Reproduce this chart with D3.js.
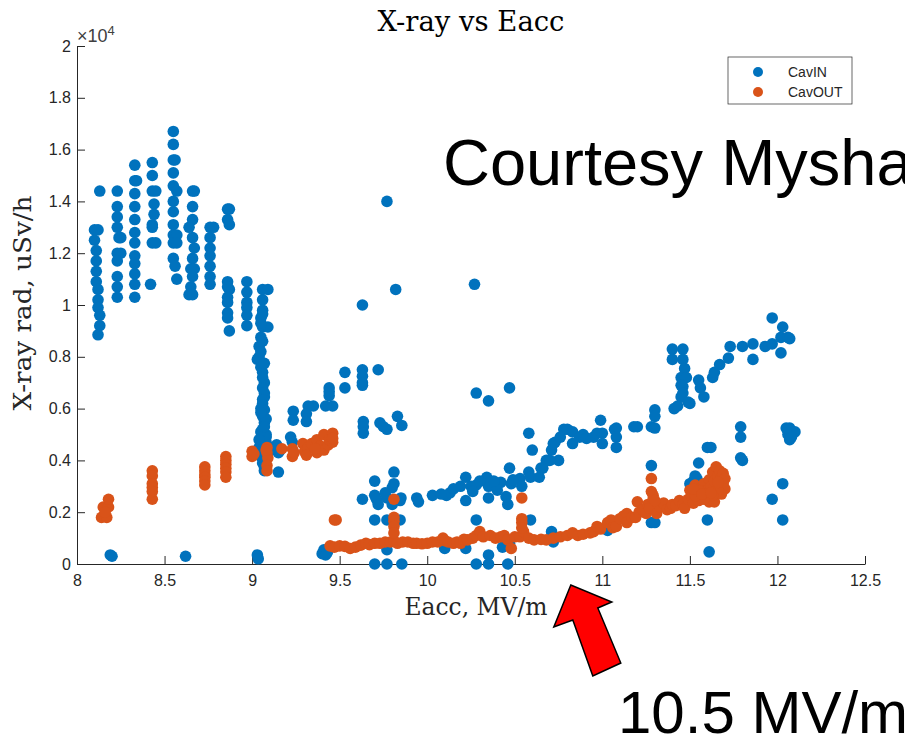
<!DOCTYPE html>
<html>
<head>
<meta charset="utf-8">
<script src="https://cdn.jsdelivr.net/npm/d3@7"></script>
<style>
  body { margin: 0; background: #fff; }
  svg { display: block; }
</style>
</head>
<body>
<div id="chart"></div>
<script>
// Eacc [MV/m] and X-ray rad [uSv/h]
var cavIn = [
  [8.10,12900],[8.12,12900],[8.10,12500],[8.11,12100],[8.11,11700],[8.11,11300],[8.11,10900],[8.12,10600],
  [8.12,10200],[8.12,9900],[8.13,9600],[8.13,9200],[8.12,8850],[8.13,14400],
  [8.23,14400],[8.23,13800],[8.23,13400],[8.23,13000],[8.24,12600],[8.25,12600],[8.23,12000],[8.25,12000],
  [8.23,11700],[8.23,11100],[8.23,10700],[8.23,10300],
  [8.33,15400],[8.33,14800],[8.34,14800],[8.33,14300],[8.33,13800],[8.33,13300],[8.33,12800],[8.33,12400],
  [8.33,11900],[8.33,11600],[8.33,11200],[8.33,10800],[8.33,10300],
  [8.43,15500],[8.43,15000],[8.43,14400],[8.45,14400],[8.44,13900],[8.44,13500],[8.43,13100],[8.43,13000],
  [8.43,12400],[8.45,12400],[8.42,10800],
  [8.55,16700],[8.55,16200],[8.55,15600],[8.56,15600],[8.55,15100],[8.55,14600],[8.57,14400],[8.55,14000],
  [8.55,13600],[8.55,13100],[8.55,12700],[8.57,12700],[8.55,12400],[8.57,12400],[8.55,11800],[8.56,11500],[8.57,11000],
  [8.66,14400],[8.67,14400],[8.66,13800],[8.66,13300],[8.64,13000],[8.66,12600],[8.67,12200],[8.66,11800],
  [8.65,11400],[8.67,11400],[8.66,11100],[8.65,10700],[8.64,10400],[8.66,10400],
  [8.76,13000],[8.78,13000],[8.76,12600],[8.76,12200],[8.76,11900],[8.76,11500],[8.76,11100],[8.76,10800],
  [8.86,13700],[8.87,13700],[8.86,13300],[8.87,13100],[8.86,10900],[8.86,10700],[8.87,10600],[8.86,10300],
  [8.86,10100],[8.86,9700],[8.86,9500],[8.87,9000],
  [8.97,10900],[8.97,10500],[8.97,10100],[8.97,9900],[8.97,9600],[8.97,9200],
  [9.06,10600],[9.09,10600],[9.06,10200],[9.06,9800],[9.05,9500],[9.06,9150],[9.09,9150],[9.05,8750],
  [9.04,8400],[9.04,8000],[9.03,7900],[9.05,7600],[9.06,7400],[9.07,7000],[9.06,6800],[9.07,6450],
  [9.06,6200],[9.07,5950],[9.06,5700],[9.07,5450],[9.06,5200],[9.08,4900],[9.05,4650],[9.07,4400],
  [9.05,4150],[9.06,3900],[9.07,3600],[9.06,7200],[9.07,6600],[9.05,6000],[9.08,5600],[9.05,5100],
  [9.08,4700],[9.04,4500],[9.09,4300],[9.04,4300],[9.10,4500],[9.07,3750],[9.05,8200],[9.06,8600],
  [9.05,9300],[9.06,9650],[9.08,5000],[9.04,4800],[9.07,5300],[9.05,5850],[9.06,6350],[9.07,7750],
  [9.12,4500],[9.14,4600],[9.15,4300],[9.16,4400],[9.15,3550],
  [9.22,4900],[9.23,4700],[9.235,5900],[9.235,5550],[9.32,6100],[9.31,5800],[9.31,5500],[9.35,6100],
  [9.42,6100],[9.46,6100],[9.44,6800],[9.44,6500],[9.44,6650],[9.53,7400],[9.53,6800],[9.63,7500],
  [9.63,7250],[9.63,7000],[9.72,7500],[9.63,6900],
  [9.635,5500],[9.635,5300],[9.635,5050],[9.73,5450],[9.75,5300],[9.77,5200],[9.83,5700],[9.855,5350],
  [9.63,10000],[9.82,10600],[9.77,14000],[10.27,10800],
  [8.19,350],[8.20,300],[8.62,300],[9.03,350],[9.035,200],[9.40,400],[9.41,550],[9.42,350],[9.43,450],
  [9.70,3200],[9.81,3550],[9.81,3100],[9.80,2950],[9.70,2650],[9.71,2500],[9.77,2550],[9.845,2450],
  [9.63,2500],[9.76,2750],[9.72,2300],[9.80,2300],[9.85,2550],[9.94,2550],[9.95,2400],[10.03,2650],
  [10.11,2650],[10.13,2750],[10.19,3000],[10.22,3350],[10.25,3000],[10.28,3050],[10.34,3350],[10.35,3000],
  [10.35,2550],[10.22,2450],[10.42,3150],[10.47,3700],[10.48,3100],[10.53,3300],[10.54,3000],[10.58,3550],
  [10.65,3700],[10.68,4000],[10.71,4400],[10.72,4650],[10.75,4000],[10.78,5200],[10.80,5200],[10.83,5100],
  [10.83,4650],[10.87,4900],[10.89,5000],[10.91,4850],[10.95,4900],[10.97,5050],[10.99,5550],[11.00,4650],
  [11.00,5050],[11.07,5200],[11.08,4500],[11.08,5250],[11.08,4900],[11.18,5300],[11.20,5300],[11.28,5300],
  [11.30,5950],[11.30,5700],[11.30,5250],[10.28,6600],[10.35,6300],[10.47,6800],[10.58,5050],[10.60,4400],
  [10.49,3250],[10.59,3350],[10.64,3350],[10.66,3700],[10.70,4000],[10.73,4700],[10.76,4900],[10.45,2600],
  [10.46,2300],[10.40,2850],[10.15,2900],[10.08,2700],[10.30,3200],[10.26,2800],[10.38,3200],
  [9.70,1700],[9.77,1700],[9.845,1700],[10.28,1700],[10.59,1700],[11.28,1600],[11.60,1700],[12.03,1700],
  [9.70,0],[9.77,0],[9.855,0],[9.77,550],[10.28,0],[10.35,0],[10.35,350],[10.43,650],[10.46,0],
  [10.10,600],[10.22,600],[10.47,800],[10.71,1250],[10.72,850],[11.03,1300],[11.30,1600],[11.61,470],
  [11.40,8300],[11.46,8300],[11.40,7900],[11.46,7900],[11.47,7550],[11.45,7200],[11.48,7200],[11.45,6900],
  [11.46,6850],[11.46,6600],[11.45,6450],[11.50,6200],[11.41,6000],[11.43,6100],[11.49,6250],[11.55,7100],
  [11.56,6800],[11.58,6450],[11.63,7200],[11.64,7400],[11.67,7700],[11.72,7950],[11.73,8400],[11.80,8400],
  [11.86,8500],[11.86,7900],[11.93,8400],[11.97,9500],[12.03,9150],[12.02,8750],[12.06,8750],[11.97,8500],
  [12.02,8150],[12.07,8700],
  [12.07,5250],[12.10,5100],[12.07,4800],[12.06,5000],[12.08,4900],[12.05,5250],
  [11.79,5300],[11.79,4900],[11.80,4000],[11.79,4100],[11.60,4500],[11.62,4500],[11.55,3900],[11.52,3200],
  [11.53,3400],[11.28,3800],[11.97,2500],[12.03,3100],[11.50,3100],[11.54,3300]
];

var cavOut = [
  [8.14,1800],[8.17,1800],[8.15,2200],[8.18,2200],[8.18,2500],[8.16,2000],
  [8.43,3600],[8.43,3400],[8.43,3100],[8.43,2950],[8.43,2500],[8.43,2800],
  [8.73,3750],[8.73,3600],[8.73,3450],[8.73,3350],[8.73,3200],[8.73,3050],
  [8.85,4150],[8.85,4000],[8.85,3850],[8.85,3700],[8.85,3550],[8.85,3350],
  [9.00,4350],[9.00,4150],[9.01,4250],
  [9.085,4500],[9.085,4300],[9.09,4100],[9.085,3800],[9.085,3600],[9.08,4400],
  [9.17,4450],[9.23,4450],[9.23,4150],[9.24,4300],
  [9.29,4650],[9.30,4350],[9.32,4500],[9.34,4650],[9.37,4800],[9.37,4300],[9.39,4550],[9.41,5000],
  [9.41,4400],[9.435,4600],[9.44,4800],[9.46,5050],[9.46,4700],[9.46,4850],[9.31,4200],[9.36,4450],
  [9.47,1700],[9.48,1700],
  [9.445,700],[9.47,650],[9.50,700],[9.53,680],[9.56,600],[9.59,650],[9.62,730],[9.65,800],[9.67,750],
  [9.70,800],[9.73,800],[9.76,850],[9.79,850],[9.81,900],[9.83,800],[9.86,850],[9.89,850],[9.92,800],
  [9.94,800],[9.97,780],[10.00,800],[10.03,850],[10.06,850],[10.09,1000],[10.10,900],[10.12,850],
  [10.15,800],[10.17,850],[10.19,800],[10.21,950],[10.23,930],[10.26,1000],[10.28,1100],[10.30,1250],
  [10.32,1050],[10.36,1100],[10.39,1000],[10.42,1050],[10.44,1100],[10.46,930],[10.48,600],[10.50,1050],
  [10.53,1050],[10.55,1250],[10.58,1000],[10.61,930],[10.65,950],[10.68,930],[10.72,1000],[10.76,1050],
  [10.80,1100],[10.83,1200],[10.86,1100],[10.89,1150],[10.93,1200],[10.95,1250],[10.97,1450],[10.99,1350],
  [11.03,1600],[11.05,1700],[11.06,1400],[11.08,1450],[11.10,1750],[11.12,1850],[11.14,1950],[11.14,1600],
  [11.17,1800],[11.19,1800],[11.20,2400],[11.21,2000],[11.23,2100],[11.25,1950],[11.26,2300],[11.27,2150],
  [11.29,2500],[11.31,1950],[11.33,2200],[11.35,2350],[11.37,2100],[11.39,2150],[11.40,2300],[11.42,2250],
  [11.44,2450],[11.46,2300],[11.47,2150],[11.49,2500],[11.50,2850],[11.51,2600],[11.52,2350],[11.53,3050],
  [11.54,2750],[11.55,2450],[11.56,2600],[11.57,2950],[11.58,3100],[11.59,2700],[11.60,2850],[11.61,3250],
  [11.61,2400],[11.62,3000],[11.63,3550],[11.64,2400],[11.64,3200],[11.65,3750],[11.66,3400],[11.67,3600],
  [11.67,3000],[11.68,3350],[11.69,3100],[11.69,3500],[11.70,3300],[11.70,2900],[11.68,2700],[11.66,2850],
  [11.63,2650],[11.58,2500],[11.55,2850],[11.53,2650],[11.52,2900],[11.57,2700],[11.62,2750],[11.66,3150],
  [9.81,2500],[9.81,1800],[9.81,1650],[9.81,1450],[9.81,1200],
  [10.54,2550],[10.54,1750],[10.54,1600],[10.54,1400],
  [11.28,3300],[11.28,2800],[11.29,2650],[11.30,2450]
];

var xTicks = [8, 8.5, 9, 9.5, 10, 10.5, 11, 11.5, 12, 12.5];
var yTicks = [0, 2000, 4000, 6000, 8000, 10000, 12000, 14000, 16000, 18000, 20000];
var seriesNames = ["CavIN", "CavOUT"];
var seriesColors = ["#0072BD", "#D95319"];

var W = 905, H = 741;
var plotL = 77, plotR = 865, plotT = 46, plotB = 564;

var svg = d3.select("#chart").append("svg")
  .attr("width", W)
  .attr("height", H);

var x = d3.scaleLinear().domain([8, 12.5]).range([plotL, plotR]);
var y = d3.scaleLinear().domain([0, 20000]).range([plotB, plotT]);

var axisColor = "#262626";
var tickFont = "'Liberation Sans', Arial, Helvetica, sans-serif";

// axes (MATLAB style: ticks pointing in, no box)
var xAxis = svg.append("g")
  .attr("transform", "translate(0," + plotB + ")")
  .call(d3.axisBottom(x).tickValues(xTicks).tickSizeInner(-8).tickSizeOuter(0).tickPadding(11)
    .tickFormat(d3.format("~g")));
var yAxis = svg.append("g")
  .attr("transform", "translate(" + plotL + ",0)")
  .call(d3.axisLeft(y).tickValues(yTicks).tickSizeInner(-8).tickSizeOuter(0).tickPadding(6)
    .tickFormat(function(d) { return d3.format("~g")(+(d / 1e4).toFixed(1)); }));

[xAxis, yAxis].forEach(function(a) {
  a.attr("font-family", tickFont).attr("font-size", 16);
  a.select(".domain").attr("stroke", axisColor).attr("stroke-width", 1);
  a.selectAll(".tick line").attr("stroke", axisColor).attr("stroke-width", 1);
  a.selectAll(".tick text").attr("fill", axisColor);
});

// exponent label
var expo = svg.append("text")
  .attr("x", plotL)
  .attr("y", plotT - 4)
  .attr("fill", "#404040")
  .attr("font-family", tickFont)
  .attr("font-size", 18);
expo.append("tspan").text("\u00d710");
expo.append("tspan").attr("dy", -7).attr("font-size", 13).text("4");

// points: CavIN first, CavOUT drawn on top
var r = 5.8;
svg.append("g").selectAll("circle")
  .data(cavIn)
  .enter().append("circle")
  .attr("cx", function(d) { return x(d[0]); })
  .attr("cy", function(d) { return y(d[1]); })
  .attr("r", r)
  .attr("fill", seriesColors[0]);

svg.append("g").selectAll("circle")
  .data(cavOut)
  .enter().append("circle")
  .attr("cx", function(d) { return x(d[0]); })
  .attr("cy", function(d) { return y(d[1]); })
  .attr("r", r)
  .attr("fill", seriesColors[1]);

// title and axis labels (LaTeX look)
var serif = "'DejaVu Serif', serif";
svg.append("text")
  .attr("x", 471).attr("y", 31)
  .attr("text-anchor", "middle")
  .attr("fill", "#000")
  .attr("textLength", 187).attr("lengthAdjust", "spacingAndGlyphs")
  .attr("font-family", serif).attr("font-size", 27)
  .text("X-ray vs Eacc");

svg.append("text")
  .attr("x", 476).attr("y", 615)
  .attr("text-anchor", "middle")
  .attr("fill", axisColor)
  .attr("textLength", 143).attr("lengthAdjust", "spacingAndGlyphs")
  .attr("font-family", serif).attr("font-size", 25)
  .text("Eacc, MV/m");

svg.append("text")
  .attr("transform", "translate(31,303) rotate(-90)")
  .attr("text-anchor", "middle")
  .attr("fill", axisColor)
  .attr("textLength", 215).attr("lengthAdjust", "spacingAndGlyphs")
  .attr("font-family", serif).attr("font-size", 25)
  .text("X-ray rad, uSv/h");

// legend
var legend = svg.append("g").attr("transform", "translate(728,57)");
legend.append("rect")
  .attr("width", 124).attr("height", 47)
  .attr("fill", "#fff")
  .attr("stroke", axisColor).attr("stroke-width", 0.7);
var items = legend.selectAll(".item")
  .data(seriesNames)
  .enter().append("g")
  .attr("class", "item")
  .attr("transform", function(d, i) { return "translate(0," + (15 + i * 20) + ")"; });
items.append("circle")
  .attr("cx", 30).attr("r", 5)
  .attr("fill", function(d, i) { return seriesColors[i]; });
items.append("text")
  .attr("x", 60).attr("dy", "0.35em")
  .attr("fill", axisColor)
  .attr("font-family", tickFont).attr("font-size", 14)
  .text(function(d) { return d; });

// slide annotations
svg.append("text")
  .attr("x", 443).attr("y", 185)
  .attr("fill", "#000")
  .attr("font-family", tickFont).attr("font-size", 65)
  .text("Courtesy Mysha");

svg.append("text")
  .attr("x", 618).attr("y", 733)
  .attr("fill", "#000")
  .attr("font-family", tickFont).attr("font-size", 60)
  .text("10.5 MV/m");

// red arrow pointing at the axis near 10.8 MV/m
var tipX = x(10.82), tipY = plotB + 21;
var arrow = [[0,0],[-17,42],[2,35],[22,91],[50,78],[27,23],[41,17]];
svg.append("polygon")
  .attr("points", arrow.map(function(p) { return (tipX + p[0]) + "," + (tipY + p[1]); }).join(" "))
  .attr("fill", "#FF0000")
  .attr("stroke", "#000")
  .attr("stroke-width", 1.5)
  .attr("stroke-linejoin", "miter");
</script>
</body>
</html>
